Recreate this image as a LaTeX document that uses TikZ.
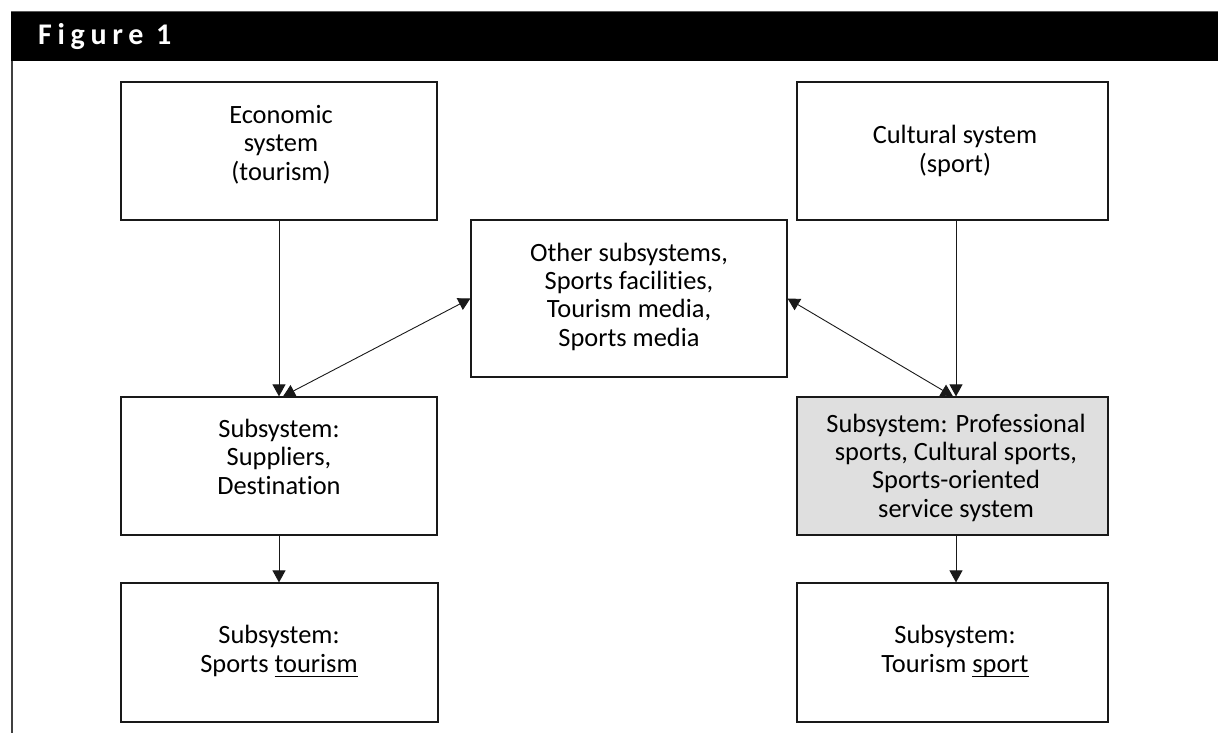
\documentclass[tikz,border=0pt]{standalone}
\usepackage{fontspec}
\setmainfont{Carlito}[Ligatures=NoCommon]
\newfontfamily\headfont[LetterSpace=19]{Carlito}
\usetikzlibrary{arrows.meta}
% underline drawn at a fixed depth below the baseline
\newcommand\ulword[1]{\setbox0\hbox{#1}\rlap{\rule[-4.5pt]{\wd0}{1pt}}\box0}

\begin{document}
\begin{tikzpicture}[x=1pt,y=-1pt,
  box/.style={draw=black!90,line width=1.2pt,rectangle,inner sep=0pt},
  txt/.style={anchor=base,align=center,inner sep=0pt,font=\fontsize{26.4}{28.3}\selectfont},
  arr/.style={draw=black!90,line width=0.9pt,-{Triangle[length=12pt,width=13pt]}},
  dbl/.style={draw=black!90,line width=0.9pt,{Triangle[length=12pt,width=13pt]}-{Triangle[length=12pt,width=13pt]}}]

\useasboundingbox (0,0) rectangle (1218,733);

% header band and frame
\fill[black] (11,11.5) rectangle (1218,61);
\draw[gray!70!black,line width=1.2pt] (11,11.2) -- (1218,11.2);
\draw[black!75,line width=1.2pt] (12,61) -- (12,733);
\node[anchor=base west,inner sep=0pt,text=white,
      font=\headfont\bfseries\fontsize{30}{30}\selectfont] (title) at (38,45) {Figure 1};

% boxes
\node[box,minimum width=316pt,minimum height=138pt] (econ) at (279,151) {};
\node[box,minimum width=311pt,minimum height=138pt] (cult) at (952.5,151) {};
\node[box,minimum width=316pt,minimum height=157pt] (mid)  at (629,298.5) {};
\node[box,minimum width=316pt,minimum height=138pt] (supp) at (279,466) {};
\node[box,fill=gray!25,minimum width=311pt,minimum height=138pt] (prof) at (952.5,466) {};
\node[box,minimum width=317pt,minimum height=139pt] (st)   at (279.5,652.5) {};
\node[box,minimum width=311pt,minimum height=139pt] (ts)   at (952.5,652.5) {};

% box texts (anchored at the baseline of the last line)
\node[txt] (econtxt) at (281,180) {Economic\\system\\(tourism)};
\node[txt] (culttxt) at (955,172) {Cultural system\\(sport)};
\node[txt] (midtxt)  at (629,346) {Other subsystems,\\Sports facilities,\\Tourism media,\\Sports media};
\node[txt] (supptxt) at (279,494) {Subsystem:\\Suppliers,\\Destination};
\node[txt] (proftxt) at (956,517) {Subsystem: Professional\\sports, Cultural sports,\\Sports-oriented\\service system};
\node[txt] (sttxt)   at (279,672) {Subsystem:\\Sports \ulword{tourism}};
\node[txt] (tstxt)   at (955,672) {Subsystem:\\Tourism \ulword{sport}};

% connector columns
\coordinate (lx)  at (279,0);
\coordinate (rx)  at (956,0);
\coordinate (ldx) at (283,0);
\coordinate (rdx) at (953,0);

% connectors
\draw[arr] (econ.south -| lx) -- (supp.north -| lx);
\draw[arr] (cult.south -| rx) -- (prof.north -| rx);
\draw[dbl] (supp.north -| ldx) -- (mid.west);
\draw[dbl] (mid.east) -- (prof.north -| rdx);
\draw[arr] (supp.south -| lx) -- (st.north -| lx);
\draw[arr] (prof.south -| rx) -- (ts.north -| rx);
\end{tikzpicture}
\end{document}
